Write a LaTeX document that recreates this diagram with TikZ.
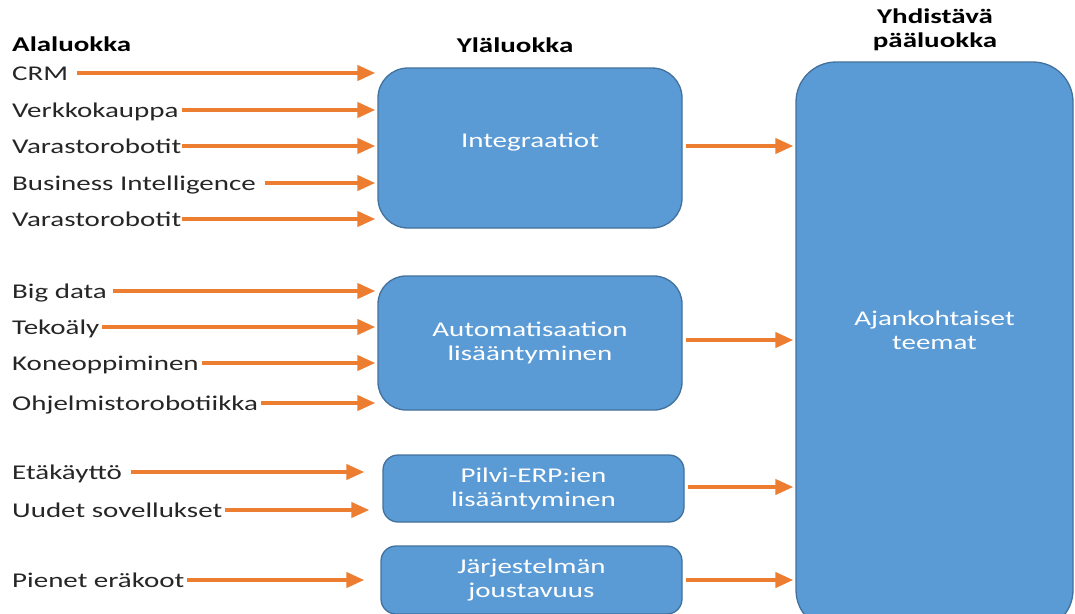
\documentclass[tikz,border=0pt]{standalone}
\usepackage{fontspec}
\setmainfont[FakeStretch=1.38]{Carlito}
\usetikzlibrary{arrows.meta}
\definecolor{boxfill}{HTML}{5B9BD5}
\definecolor{boxline}{HTML}{41719C}
\definecolor{arrowc}{HTML}{ED7D31}
\definecolor{ink}{HTML}{262626}
\begin{document}
\begin{tikzpicture}[x=1pt,y=-1pt,
  every node/.style={font=\fontsize{21}{24}\selectfont},
  item/.style={anchor=west, inner sep=0pt, text=ink, text height=18pt, text depth=4pt},
  head/.style={inner sep=0pt, text=black, font=\fontsize{21}{24}\selectfont\bfseries, align=center},
  box/.style={draw=boxline, line width=1.3pt, fill=boxfill, text=white, align=center, inner sep=0pt},
  arr/.style={draw=arrowc, line width=4pt, -{Triangle[length=18pt,width=15pt]}, shorten >=2pt, shorten <=3pt}
]
\clip (0,0) rectangle (1075,613);
\useasboundingbox (0,0) rectangle (1075,613);

% headings
\node[head, anchor=west] (hsub) at (12,44) {Alaluokka};
\node[head] (hmid) at (515,45) {Yläluokka};
\node[head] (htop) at (935,30) {Yhdistävä\\pääluokka};

% middle level boxes
\node[box, rounded corners=30pt, minimum width=304pt, minimum height=160pt,
  label={[text=white, yshift=6pt, font=\fontsize{21}{24}\selectfont]center:Integraatiot}] (int) at (530,148) {};
\node[box, rounded corners=28pt, minimum width=304pt, minimum height=134pt] (aut) at (530,343) {Automatisaation\\lisääntyminen};
\node[box, rounded corners=15pt, minimum width=301pt, minimum height=67pt] (pil) at (533.5,488.5) {Pilvi-ERP:ien\\lisääntyminen};
\node[box, rounded corners=15pt, minimum width=301pt, minimum height=68pt] (jar) at (531.5,580) {Järjestelmän\\joustavuus};

% top level box
\node[box, rounded corners=40pt, minimum width=277pt, minimum height=568pt,
  label={[text=white, align=center, yshift=16pt, font=\fontsize{21}{24}\selectfont]center:Ajankohtaiset\\teemat}] (big) at (934.5,346) {};

% sub-level items
\node[item] (crm) at (12,73) {CRM};
\node[item] (verk) at (12,110) {Verkkokauppa};
\node[item] (var1) at (12,146) {Varastorobotit};
\node[item] (bi) at (12,183) {Business Intelligence};
\node[item] (var2) at (12,219) {Varastorobotit};
\node[item] (bigd) at (12,291) {Big data};
\node[item] (tek) at (12,327) {Tekoäly};
\node[item] (kone) at (12,363) {Koneoppiminen};
\node[item] (ohj) at (12,403) {Ohjelmistorobotiikka};
\node[item] (eta) at (12,472) {Etäkäyttö};
\node[item] (uud) at (12,510) {Uudet sovellukset};
\node[item] (pie) at (12,580) {Pienet eräkoot};

% connectors into the middle boxes
\draw[arr, shorten <=9pt] (crm.east) -- (crm.east -| int.west);
\draw[arr] (verk.east) -- (verk.east -| int.west);
\draw[arr, shorten <=0pt] (var1.east) -- (var1.east -| int.west);
\draw[arr, shorten <=9pt] (bi.east) -- (bi.east -| int.west);
\draw[arr, shorten <=0pt] (var2.east) -- (var2.east -| int.west);
\draw[arr, shorten <=6pt] (bigd.east) -- (bigd.east -| aut.west);
\draw[arr] (tek.east) -- (tek.east -| aut.west);
\draw[arr] (kone.east) -- (kone.east -| aut.west);
\draw[arr] (ohj.east) -- (ohj.east -| aut.west);
\draw[arr, shorten <=9pt, shorten >=18pt] (eta.east) -- (eta.east -| pil.west);
\draw[arr, shorten >=13pt] (uud.east) -- (uud.east -| pil.west);
\draw[arr, shorten >=16pt] (pie.east) -- (pie.east -| jar.west);

% connectors into the top box
\draw[arr] ([yshift=2pt]int.east) -- ([yshift=2pt]int.east -| big.west);
\draw[arr] ([yshift=3pt]aut.east) -- ([yshift=3pt]aut.east -| big.west);
\draw[arr] ([yshift=1.5pt]pil.east) -- ([yshift=1.5pt]pil.east -| big.west);
\draw[arr] (jar.east) -- (jar.east -| big.west);
\end{tikzpicture}
\end{document}
